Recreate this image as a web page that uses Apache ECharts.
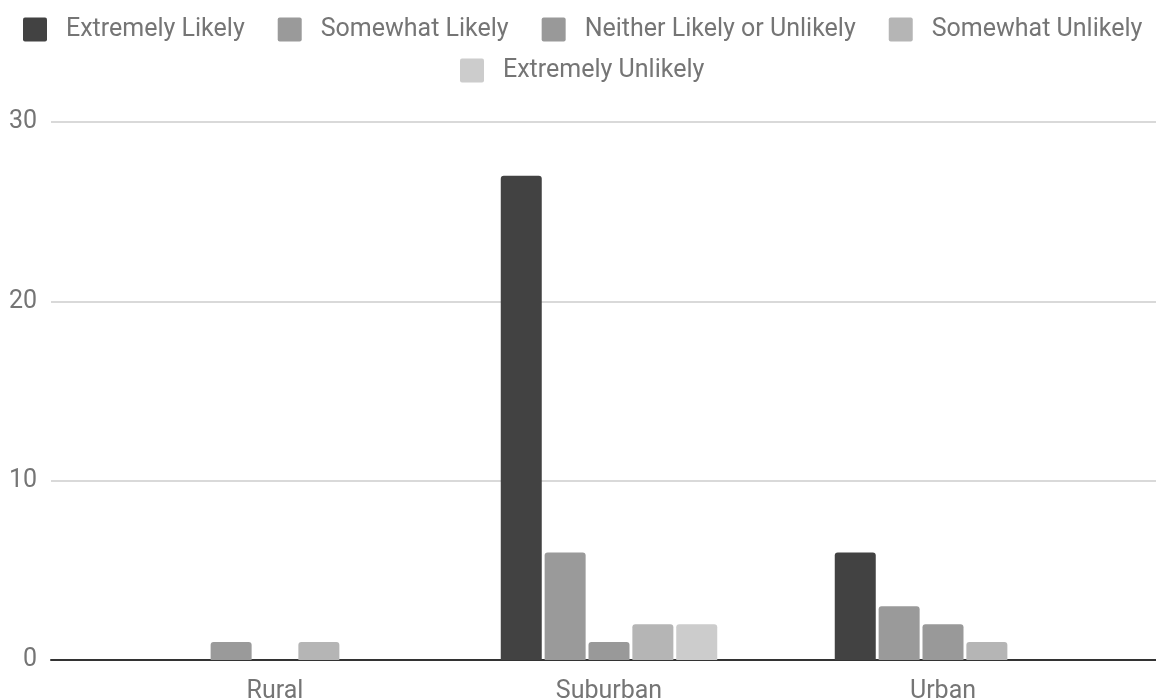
<!DOCTYPE html>
<html>
<head>
<meta charset="utf-8">
<script src="https://cdn.jsdelivr.net/npm/echarts@6/dist/echarts.min.js"></script>
<style>
  html, body { margin: 0; padding: 0; background: #fff; }
  #chart { width: 1156px; height: 700px; }
</style>
</head>
<body>
<div id="chart"></div>
<script>
// Responses grouped by area type
const categories = ['Rural', 'Suburban', 'Urban'];
const seriesNames = ['Extremely Likely', 'Somewhat Likely', 'Neither Likely or Unlikely', 'Somewhat Unlikely', 'Extremely Unlikely'];
const extremelyLikely = [0, 27, 6];
const somewhatLikely = [1, 6, 3];
const neitherLikely = [0, 1, 2];
const somewhatUnlikely = [1, 2, 1];
const extremelyUnlikely = [0, 2, 0];
const yTicks = [0, 10, 20, 30];

const seriesValues = [extremelyLikely, somewhatLikely, neitherLikely, somewhatUnlikely, extremelyUnlikely];
const colors = ['#424242', '#9a9a9a', '#999999', '#b5b5b5', '#cccccc'];

const font = 'Roboto, "Noto Sans", sans-serif';
const labelColor = '#757575';

// square legend swatch with slightly softened corners
const swatch = 'path://M2,0 H22 Q24,0 24,2 V22 Q24,24 22,24 H2 Q0,24 0,22 V2 Q0,0 2,0 Z';

const chart = echarts.init(document.getElementById('chart'));

const legendCommon = {
  icon: swatch,
  itemWidth: 24,
  itemHeight: 24,
  itemGap: 33,
  textStyle: { fontFamily: font, fontSize: 25, color: labelColor, padding: [0, 0, 0, 14] },
  selectedMode: false
};

chart.setOption({
  animation: false,
  color: colors,
  legend: [
    Object.assign({}, legendCommon, { left: 18, top: 12, data: seriesNames.slice(0, 4) }),
    Object.assign({}, legendCommon, { left: 455, top: 53, data: seriesNames.slice(4) })
  ],
  grid: [
    // full-width frame: gridlines, baseline and value labels
    { left: 51, right: 0, top: 122, bottom: 40, outerBoundsMode: 'none' },
    // bar area
    { left: 108, right: 46, top: 122, bottom: 40, outerBoundsMode: 'none' }
  ],
  xAxis: [
    {
      gridIndex: 0, type: 'category', data: categories,
      axisLine: { show: true, lineStyle: { color: '#333333', width: 2 } },
      axisTick: { show: false }, axisLabel: { show: false }, splitLine: { show: false }
    },
    {
      gridIndex: 1, type: 'category', data: categories,
      axisLine: { show: false }, axisTick: { show: false },
      axisLabel: { fontFamily: font, fontSize: 25, color: labelColor, margin: 19 }
    }
  ],
  yAxis: [
    {
      gridIndex: 0, type: 'value', min: yTicks[0], max: yTicks[yTicks.length - 1], interval: 10,
      axisLine: { show: false }, axisTick: { show: false },
      axisLabel: { fontFamily: font, fontSize: 25, color: labelColor, margin: 14 },
      splitLine: { lineStyle: { color: '#cccccc', width: 1.5 } }
    },
    {
      gridIndex: 1, type: 'value', min: yTicks[0], max: yTicks[yTicks.length - 1], interval: 10,
      show: false, splitLine: { show: false }
    }
  ],
  series: seriesNames.map((name, i) => ({
    name: name,
    type: 'bar',
    xAxisIndex: 1,
    yAxisIndex: 1,
    data: seriesValues[i],
    barWidth: 41,
    barGap: '7%',
    itemStyle: { color: colors[i], borderRadius: [3, 3, 0, 0] }
  }))
});
</script>
</body>
</html>
